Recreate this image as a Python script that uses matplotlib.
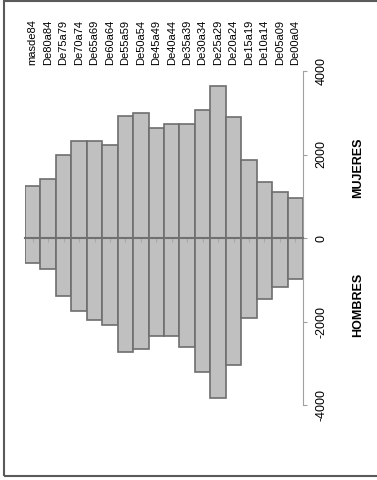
import matplotlib
matplotlib.use("Agg")
import matplotlib.pyplot as plt
import matplotlib.patches as mpatches
import matplotlib.transforms as mtrans
import numpy as np

plt.rcParams['font.family'] = ['Liberation Sans', 'DejaVu Sans']

# age groups, oldest first (left to right in the picture)
grupos = ['masde84', 'De80a84', 'De75a79', 'De70a74', 'De65a69', 'De60a64',
          'De55a59', 'De50a54', 'De45a49', 'De40a44', 'De35a39', 'De30a34',
          'De25a29', 'De20a24', 'De15a19', 'De10a14', 'De05a09', 'De00a04']
mujeres = [1250, 1410, 1990, 2320, 2320, 2230, 2920, 2990, 2640, 2730, 2730, 3070,
           3640, 2900, 1880, 1330, 1110, 970]
hombres = [-590, -740, -1390, -1740, -1960, -2080, -2740, -2670, -2350, -2350, -2600, -3200,
           -3840, -3040, -1920, -1470, -1180, -980]
valor_ticks = [-4000, -2000, 0, 2000, 4000]

W, H = 377, 480
fig = plt.figure(figsize=(W / 100, H / 100), dpi=100)

# axes box in pixels: x 25..303, value 4000 at y=71, -4000 at y=405
ax = fig.add_axes([25 / W, (H - 405) / H, (303 - 25) / W, (405 - 71) / H])

x = np.arange(len(grupos))
face = '#c0c0c0'
edge = '#6e6e6e'
ax.bar(x, mujeres, width=1.0, color=face, edgecolor=edge, linewidth=1.2)
ax.bar(x, hombres, width=1.0, color=face, edgecolor=edge, linewidth=1.2)

ax.set_xlim(-0.5, len(grupos) - 0.5)
ax.set_ylim(-4000, 4000)

# zero line with small category ticks
for s in ['top', 'left']:
    ax.spines[s].set_visible(False)
ax.spines['bottom'].set_position(('data', 0))
ax.spines['bottom'].set_color('#707070')
ax.spines['bottom'].set_linewidth(1.5)
ax.spines['bottom'].set_zorder(3)
ax.set_xticks(x)
ax.set_xticklabels([])
ax.tick_params(axis='x', direction='out', length=3, color='#a8a8a8', width=0.8)

# value axis on the right
ax.spines['right'].set_color('#a0a0a0')
ax.spines['right'].set_linewidth(0.8)
ax.yaxis.tick_right()
ax.set_yticks(valor_ticks)
ax.set_yticklabels([str(v) for v in valor_ticks])
ax.tick_params(axis='y', direction='out', length=3, color='#a0a0a0', width=0.8,
               labelrotation=90, labelsize=9, pad=6)
for lab in ax.get_yticklabels():
    lab.set_va('center')

# category labels at the top, rotated
trans = mtrans.blended_transform_factory(ax.transData, fig.transFigure)
for i, g in enumerate(grupos):
    ax.text(i, (H - 65) / H, g, rotation=90, ha='center', va='bottom',
            fontsize=8, transform=trans)

fig.text(358 / W, (H - 168) / H, 'MUJERES', rotation=90, ha='center', va='center',
         fontsize=9, fontweight='bold')
fig.text(358 / W, (H - 305) / H, 'HOMBRES', rotation=90, ha='center', va='center',
         fontsize=9, fontweight='bold')

# outer frame (left, top, bottom; right side runs off the image)
fig.patches.append(mpatches.Rectangle((4 / W, 4 / H), 1.0, (H - 5) / H, transform=fig.transFigure,
                                      fill=False, edgecolor='#5a5a5a', linewidth=1.5))

fig.savefig('out.png', dpi=100)
